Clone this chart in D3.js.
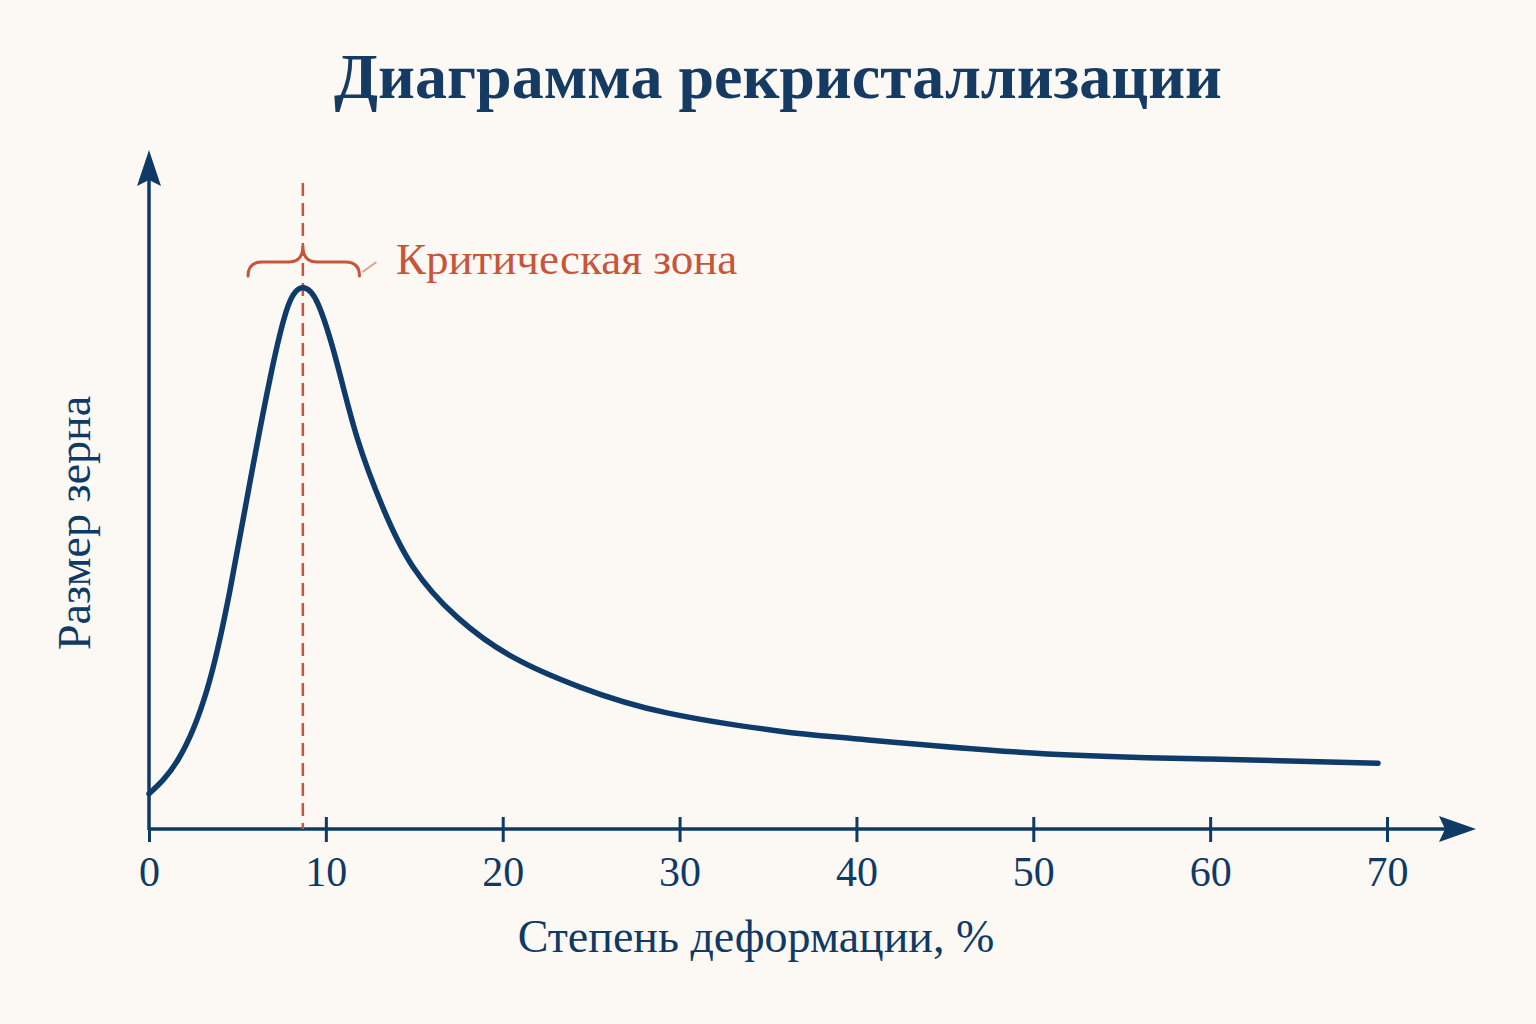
<!DOCTYPE html>
<html>
<head>
<meta charset="utf-8">
<script src="https://cdn.jsdelivr.net/npm/d3@7"></script>
<style>
  html, body { margin: 0; padding: 0; background: #fcf9f4; }
  svg { display: block; }
</style>
</head>
<body>
<div id="chart"></div>
<script>
// степень деформации, %
const deformation = [0, 1.64, 3.28, 4.58, 5.71, 6.84, 7.86, 8.71, 9.56, 10.63, 11.76, 13.23,
    14.93, 17.42, 20.58, 24.37, 29.29, 35.68, 39.92, 49.93, 59.99, 69.49];
// размер зерна, arbitrary units
const grainSize = [5.2, 10.2, 20.5, 35.2, 51.1, 66.3, 77.0, 79.7, 77.3, 68.6, 57.7, 47.3,
    38.6, 31.2, 25.3, 20.9, 17.1, 14.4, 13.3, 11.2, 10.3, 9.7];

const xTicks = [0, 10, 20, 30, 40, 50, 60, 70];
const criticalPoint = 8.7;
const criticalZone = [5.6, 11.9];

const titleText = "Диаграмма рекристаллизации";
const xTitle = "Степень деформации, %";
const yTitle = "Размер зерна";
const zoneLabel = "Критическая зона";

const width = 1536, height = 1024;
const navy = "#0f3a66";
const rust = "#c8553a";
const serif = "'Liberation Serif', 'DejaVu Serif', serif";

const svg = d3.select("#chart")
    .append("svg")
    .attr("width", width)
    .attr("height", height);

svg.append("rect")
    .attr("width", width)
    .attr("height", height)
    .attr("fill", "#fcf9f4");

const x = d3.scaleLinear().domain([0, 70]).range([149, 1387]);
const y = d3.scaleLinear().domain([0, 100]).range([829, 150]);

// title
svg.append("text")
    .attr("x", 778)
    .attr("y", 98)
    .attr("text-anchor", "middle")
    .style("font-family", serif)
    .style("font-weight", "bold")
    .style("font-size", "64px")
    .style("fill", "#163b63")
    .text(titleText);

// x axis with ticks
const xAxis = d3.axisBottom(x)
    .tickValues(xTicks)
    .tickSize(0)
    .tickPadding(0);

const gx = svg.append("g")
    .attr("transform", "translate(0," + y(0) + ")")
    .call(xAxis);

gx.select(".domain").remove();
gx.selectAll(".tick text")
    .attr("y", 57)
    .attr("dy", null)
    .style("font-family", serif)
    .style("font-size", "42px")
    .style("fill", navy);

gx.selectAll(".tick").append("line")
    .attr("y1", function (d) { return d === 0 ? 0 : -12; })
    .attr("y2", 13)
    .attr("stroke", navy)
    .attr("stroke-width", 3);

// axis lines
svg.append("line")
    .attr("x1", x(0)).attr("x2", 1446)
    .attr("y1", y(0)).attr("y2", y(0))
    .attr("stroke", navy)
    .attr("stroke-width", 3.5);

svg.append("line")
    .attr("x1", x(0)).attr("x2", x(0))
    .attr("y1", y(0) + 1).attr("y2", 180)
    .attr("stroke", navy)
    .attr("stroke-width", 3.5);

// arrowheads
svg.append("path")
    .attr("d", "M1476," + y(0) + " L1439," + (y(0) - 13) + " L1445," + y(0) + " L1439," + (y(0) + 13) + " Z")
    .attr("fill", navy);

svg.append("path")
    .attr("d", "M" + x(0) + ",150 L" + (x(0) - 12) + ",186 L" + x(0) + ",180 L" + (x(0) + 12) + ",186 Z")
    .attr("fill", navy);

// critical dashed line
svg.append("line")
    .attr("x1", x(criticalPoint)).attr("x2", x(criticalPoint))
    .attr("y1", 183).attr("y2", y(0))
    .attr("stroke", rust)
    .attr("stroke-width", 2.5)
    .attr("stroke-dasharray", "13,7");

// curve
const points = deformation.map(function (d, i) {
    return [d, grainSize[i]];
});

const line = d3.line()
    .x(function (d) { return x(d[0]); })
    .y(function (d) { return y(d[1]); })
    .curve(d3.curveNatural);

svg.append("path")
    .datum(points)
    .attr("d", line)
    .attr("fill", "none")
    .attr("stroke", "#0e3b69")
    .attr("stroke-width", 5.5)
    .attr("stroke-linecap", "round")
    .attr("stroke-linejoin", "round");

// brace over critical zone
const bx0 = x(criticalZone[0]), bx1 = x(criticalZone[1]), bm = x(criticalPoint);
const by = 262, bEnd = 276, bTip = 246;
const brace = d3.path();
brace.moveTo(bx0, bEnd);
brace.quadraticCurveTo(bx0, by, bx0 + 14, by);
brace.lineTo(bm - 14, by);
brace.quadraticCurveTo(bm, by, bm, bTip);
brace.quadraticCurveTo(bm, by, bm + 14, by);
brace.lineTo(bx1 - 14, by);
brace.quadraticCurveTo(bx1, by, bx1, bEnd);

svg.append("path")
    .attr("d", brace.toString())
    .attr("fill", "none")
    .attr("stroke", rust)
    .attr("stroke-width", 3)
    .attr("stroke-linecap", "round");

svg.append("line")
    .attr("x1", bx1 + 3).attr("y1", 272)
    .attr("x2", bx1 + 17).attr("y2", 262)
    .attr("stroke", rust)
    .attr("stroke-opacity", 0.55)
    .attr("stroke-width", 2);

svg.append("text")
    .attr("x", 396)
    .attr("y", 274)
    .style("font-family", serif)
    .style("font-size", "45px")
    .style("fill", rust)
    .text(zoneLabel);

// axis titles
svg.append("text")
    .attr("x", 756)
    .attr("y", 952)
    .attr("text-anchor", "middle")
    .style("font-family", serif)
    .style("font-size", "46px")
    .style("fill", navy)
    .text(xTitle);

svg.append("text")
    .attr("transform", "translate(90,523) rotate(-90)")
    .attr("text-anchor", "middle")
    .style("font-family", serif)
    .style("font-size", "46px")
    .style("fill", navy)
    .text(yTitle);
</script>
</body>
</html>
